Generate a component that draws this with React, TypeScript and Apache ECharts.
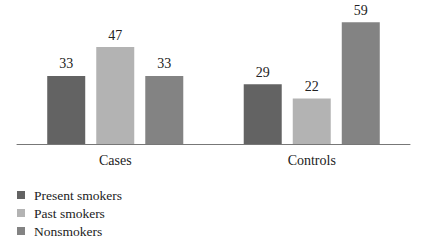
import React, { useEffect, useRef } from "react";
import * as echarts from "echarts";

const categories = ["Cases", "Controls"];
const seriesNames = ["Present smokers", "Past smokers", "Nonsmokers"];
const presentSmokers = [33, 29];
const pastSmokers = [47, 22];
const nonsmokers = [33, 59];
const colors = ["#636363", "#b3b3b3", "#838383"];

export default function App() {
  const ref = useRef<HTMLDivElement>(null);
  useEffect(() => {
    if (!ref.current) return;
    const chart = echarts.init(ref.current, null, { renderer: "svg" });
    const font = "Liberation Serif";
    const values = [presentSmokers, pastSmokers, nonsmokers];
    chart.setOption({
      animation: false,
      textStyle: { fontFamily: font },
      grid: { left: 17, right: 15, top: 0, bottom: 100 },
      legend: {
        orient: "vertical",
        left: 17,
        top: 188,
        padding: 0,
        height: 56,
        itemWidth: 8,
        itemHeight: 8,
        itemGap: 4,
        icon: "rect",
        data: seriesNames,
        textStyle: { fontFamily: font, fontSize: 13.5, color: "#222", lineHeight: 14, padding: [0, 0, 0, 4] },
      },
      xAxis: {
        type: "category",
        data: categories,
        axisLine: { lineStyle: { color: "#777", width: 1 } },
        axisTick: { show: false },
        axisLabel: { fontFamily: font, fontSize: 14, color: "#222", margin: 9 },
      },
      yAxis: {
        type: "value",
        min: 0,
        max: 69.8,
        show: false,
        splitLine: { show: false },
      },
      series: seriesNames.map((name, i) => ({
        name,
        type: "bar",
        data: values[i],
        barWidth: 38,
        barGap: "29%",
        itemStyle: { color: colors[i] },
        label: {
          show: true,
          position: "top",
          distance: 5,
          fontFamily: font,
          fontSize: 14,
          color: "#222",
        },
      })),
    });
    return () => chart.dispose();
  }, []);
  return <div ref={ref} style={{ width: 425, height: 244, position: "absolute", left: 0, top: 0 }} />;
}
